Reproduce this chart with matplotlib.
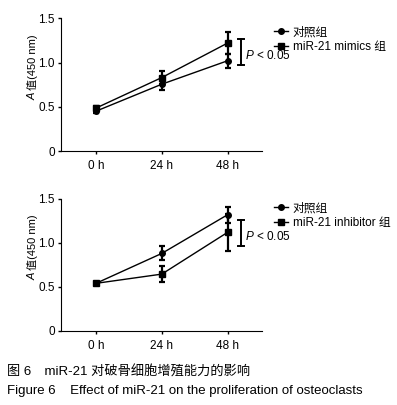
import matplotlib
matplotlib.use('Agg')
import matplotlib.pyplot as plt
import numpy as np

plt.rcParams['font.family'] = ['Liberation Sans', 'Noto Sans CJK SC']
plt.rcParams['mathtext.fontset'] = 'custom'
plt.rcParams['mathtext.it'] = 'Liberation Sans:italic'
plt.rcParams['mathtext.rm'] = 'Liberation Sans'

# data
times = ['0 h', '24 h', '48 h']
ctrl_top = [0.45, 0.755, 1.02]
ctrl_top_err = [0.015, 0.06, 0.08]
mimics = [0.485, 0.83, 1.22]
mimics_err = [0.02, 0.07, 0.12]

ctrl_bot = [0.54, 0.88, 1.32]
ctrl_bot_err = [0.02, 0.08, 0.09]
inhib = [0.54, 0.645, 1.12]
inhib_err = [0.02, 0.09, 0.21]

sig_top = (0.97, 1.27)
sig_bot = (0.96, 1.26)

x = np.arange(len(times))

fig = plt.figure(figsize=(3.97, 4.05), dpi=100)
ax1 = fig.add_axes([0.1537, 0.627, 0.506, 0.328])
ax2 = fig.add_axes([0.1537, 0.183, 0.506, 0.326])


def panel(ax, c, ce, t, te, sig, lab2, leg_y):
    h1 = ax.errorbar(x, c, yerr=ce, fmt='-o', color='black', ms=4, lw=1,
                     elinewidth=1.6, capsize=2.5, capthick=1.6)
    h2 = ax.errorbar(x, t, yerr=te, fmt='-s', color='black', ms=4, lw=1,
                     elinewidth=1.6, capsize=2.5, capthick=1.6)
    ax.set_xlim(-0.53, 2.52)
    ax.set_ylim(0, 1.5)
    ax.set_xticks(x)
    ax.set_xticklabels(times)
    ax.set_yticks([0, 0.5, 1.0, 1.5])
    ax.set_yticklabels(['0', '0.5', '1.0', '1.5'])
    ax.spines['top'].set_visible(False)
    ax.spines['right'].set_visible(False)
    ax.tick_params(labelsize=8.5, length=2.5, width=1, pad=2)
    ax.tick_params(axis='x', pad=4)
    # y label: italic A + rest
    ax.text(-0.14, 0.44, 'A', style='italic', fontsize=8, rotation=90,
            ha='center', va='top', transform=ax.transAxes)
    ax.text(-0.14, 0.46, '值(450 nm)', fontsize=8, rotation=90,
            ha='center', va='bottom', transform=ax.transAxes)
    # significance bracket
    ax.plot([2.2, 2.2], sig, color='black', lw=1.4, clip_on=False)
    ax.plot([2.15, 2.25], [sig[0], sig[0]], color='black', lw=1.4, clip_on=False)
    ax.plot([2.15, 2.25], [sig[1], sig[1]], color='black', lw=1.4, clip_on=False)
    ax.text(2.27, np.mean(sig) - 0.04, '$\\it{P}$ < 0.05', fontsize=8.5,
            va='center', clip_on=False)
    fig.legend([h1[0], h2[0]], ['对照组', lab2], loc='upper left',
               bbox_to_anchor=(0.69, leg_y), frameon=False, fontsize=8.5,
               handlelength=1.2, handletextpad=0.4, labelspacing=0.2,
               borderaxespad=0, borderpad=0)


panel(ax1, ctrl_top, ctrl_top_err, mimics, mimics_err, sig_top, 'miR-21 mimics 组', 0.935)
panel(ax2, ctrl_bot, ctrl_bot_err, inhib, inhib_err, sig_bot, 'miR-21 inhibitor 组', 0.50)

fig.text(0.018, 0.082, '图 6　miR-21 对破骨细胞增殖能力的影响', fontsize=9.5, va='center')
fig.text(0.018, 0.035, 'Figure 6    Effect of miR-21 on the proliferation of osteoclasts',
         fontsize=9.5, va='center')

fig.savefig('out.png', dpi=100)
